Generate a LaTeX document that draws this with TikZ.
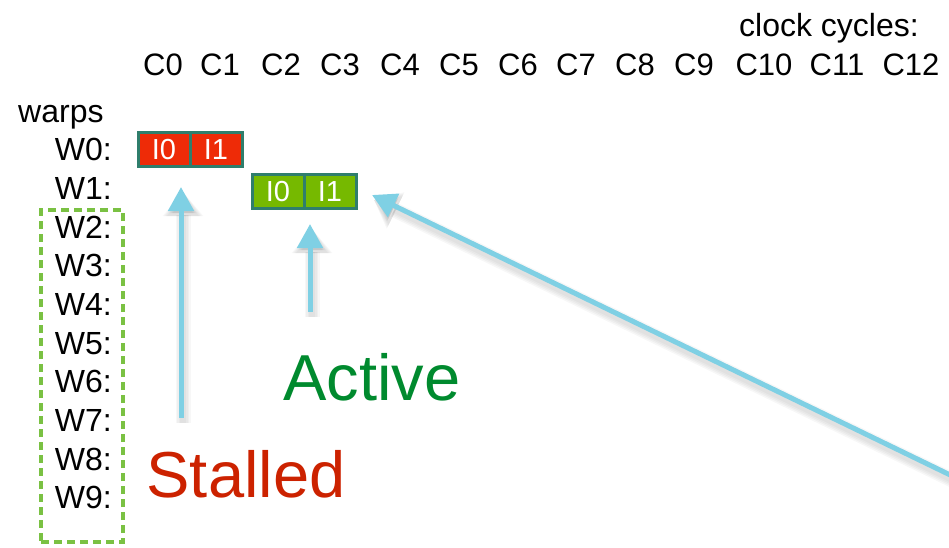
\documentclass[tikz,border=0pt]{standalone}
\usepackage{fontspec}
\setmainfont{Liberation Sans}
\usetikzlibrary{arrows.meta}
\definecolor{stallfill}{HTML}{EE2B07}
\definecolor{activefill}{HTML}{76B900}
\definecolor{cellborder}{HTML}{2F7E6C}
\definecolor{pointer}{HTML}{7FD0E4}
\definecolor{idlegreen}{HTML}{7AC143}
\definecolor{activetext}{HTML}{008A2E}
\definecolor{stalltext}{HTML}{CC2200}
\tikzset{
  label/.style={font=\fontsize{32}{36}\selectfont, inner sep=0pt, anchor=base},
  cycle/.style={font=\fontsize{31}{34}\selectfont, inner sep=0pt, anchor=base},
  warp/.style={label, anchor=base east},
  cell/.style={draw=cellborder, line width=3pt, minimum width=52pt, minimum height=34pt,
    inner sep=0pt, text=white, font=\fontsize{29}{32}\selectfont},
  stallcell/.style={cell, fill=stallfill},
  activecell/.style={cell, fill=activefill},
  pointerarrow/.style={draw=pointer, line width=5pt,
    -{Triangle[width=25pt,length=24pt,fill=pointer]}},
  pointershadow/.style={draw=black, line width=#1, opacity=0.03,
    -{Triangle[width=24pt+#1,length=24pt]}},
  bigword/.style={font=\fontsize{65}{70}\selectfont, inner sep=0pt, anchor=base},
}
\begin{document}
\begin{tikzpicture}[x=1pt, y=-1pt]
\useasboundingbox (0,0) rectangle (949,548);
\clip (0,0) rectangle (949,548);

% header
\node[label] (clk) at (829,37) {clock cycles:};
\foreach \c/\x in {0/163,1/220,2/281,3/340,4/400,5/459,6/518,7/576,8/635,9/694,10/764,11/837,12/911}
  \node[cycle] (c\c) at (\x,76) {C\c};

% warp rows
\node[label, anchor=base west] (warps) at (18,123) {warps};
\foreach \w in {0,...,9}
  \node[warp] (w\w) at (112,{160.6+38.7*\w}) {W\w:};

% idle warps
\node[draw=idlegreen, line width=4pt, dash pattern=on 8pt off 5pt,
  minimum width=82pt, minimum height=332pt, inner sep=0pt] (idle) at (82,376) {};

% issued instructions
\node[stallcell] (r0) at (164,149.5) {I0};
\node[stallcell] (r1) at (216,149.5) {I1};
\node[activecell] (g0) at (278,191.5) {I0};
\node[activecell] (g1) at (330,191.5) {I1};

% labels
\node[bigword, text=activetext] (active) at (372,400) {Active};
\node[bigword, text=stalltext] (stalled) at (246,497) {Stalled};

% pointer ends
\coordinate (s0) at (181,418);
\coordinate (s1) at (181,187);
\coordinate (a0) at (310,312);
\coordinate (a1) at (310,224);
\coordinate (o0) at (975,487);
\coordinate (o1) at (372,195);

% soft shadows, offset down and to the right
\foreach \lw in {15pt,12pt,9pt,6pt}{
  \draw[pointershadow=\lw] ([shift={(2,5)}]s0) -- ([shift={(2,5)}]s1);
  \draw[pointershadow=\lw] ([shift={(2,5)}]a0) -- ([shift={(2,5)}]a1);
  \draw[pointershadow=\lw] ([shift={(2,5)}]o0) -- ([shift={(2,5)}]o1);
}

% pointers
\draw[pointerarrow] (s0) -- (s1);
\draw[pointerarrow] (a0) -- (a1);
\draw[pointerarrow] (o0) -- (o1);
\end{tikzpicture}
\end{document}
